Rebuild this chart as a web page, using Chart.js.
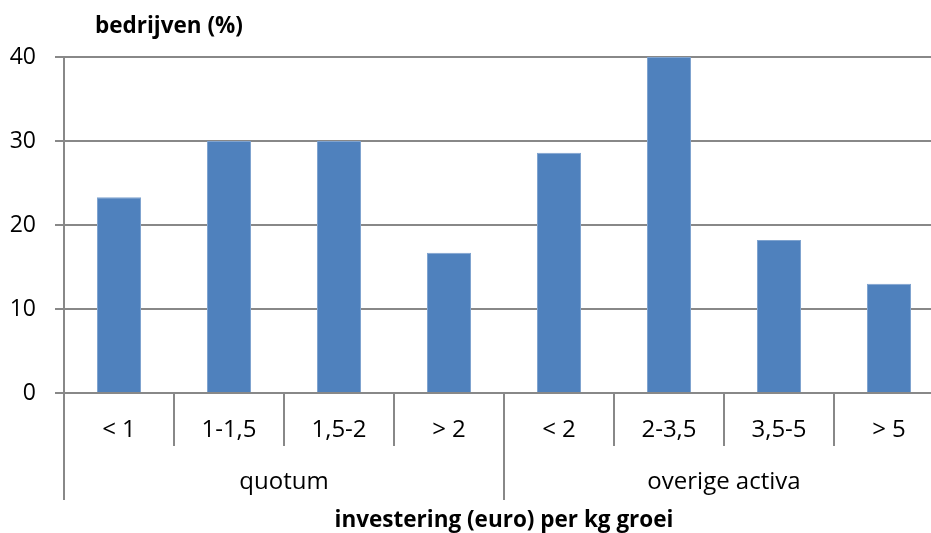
<!DOCTYPE html>
<html>
<head>
<meta charset="utf-8">
<script src="https://cdn.jsdelivr.net/npm/chart.js@4"></script>
<style>
  html, body { margin: 0; padding: 0; background: #fff; overflow: hidden; }
  .wrap { width: 960px; height: 533px; position: relative; }
</style>
</head>
<body>
<div class="wrap"><canvas id="myChart"></canvas></div>
<script>
// categories per group
const categories = ["< 1", "1-1,5", "1,5-2", "> 2", "< 2", "2-3,5", "3,5-5", "> 5"];
const groups = ["quotum", "overige activa"];
const groupSizes = [4, 4];
const values = [23.3, 30, 30, 16.7, 28.6, 40, 18.2, 13.0];
const yTicks = [0, 10, 20, 30, 40];
const yTitle = "bedrijven (%)";
const xTitle = "investering (euro) per kg groei";

const lineColor = "#888888";
const fontFam = "'Open Sans', sans-serif";

// draws the two level category axis and the titles
const groupAxis = {
  id: "groupAxis",
  afterDraw(chart) {
    const c = chart.ctx;
    const x = chart.scales.x;
    const area = chart.chartArea;
    const half = (x.getPixelForValue(1) - x.getPixelForValue(0)) / 2;
    c.save();
    c.strokeStyle = lineColor;
    c.lineWidth = 2;

    // separators between categories
    let bounds = [0];
    groupSizes.reduce((s, n) => { bounds.push(s + n); return s + n; }, 0);
    for (let i = 0; i <= categories.length; i++) {
      const px = Math.round(x.getPixelForValue(i) - half);
      const isGroup = bounds.includes(i);
      c.beginPath();
      c.moveTo(px, area.bottom);
      c.lineTo(px, area.bottom + (isGroup ? 107 : 53));
      c.stroke();
    }

    c.fillStyle = "#000";
    c.textAlign = "center";
    c.textBaseline = "middle";
    c.font = "24px " + fontFam;
    categories.forEach((lab, i) => {
      c.fillText(lab, x.getPixelForValue(i), area.bottom + 37);
    });

    let start = 0;
    groups.forEach((g, gi) => {
      const a = x.getPixelForValue(start) - half;
      const b = x.getPixelForValue(start + groupSizes[gi] - 1) + half;
      c.fillText(g, (a + b) / 2, area.bottom + 89);
      start += groupSizes[gi];
    });

    c.font = "bold 22.5px " + fontFam;
    c.fillText(xTitle, (area.left + area.right) / 2, area.bottom + 128);
    c.fillText(yTitle, area.left + 105, area.top - 30);
    c.restore();
  }
};

const ctx = document.getElementById("myChart");
new Chart(ctx, {
  type: "bar",
  data: {
    labels: categories,
    datasets: [{
      data: values,
      backgroundColor: "#4f81bd",
      borderColor: "#7fa3cf",
      borderWidth: 1,
      barPercentage: 0.8,
      categoryPercentage: 0.5
    }]
  },
  options: {
    responsive: true,
    maintainAspectRatio: false,
    animation: false,
    layout: { padding: { top: 57, right: 16, left: 0, bottom: 0 } },
    plugins: { legend: { display: false }, tooltip: { enabled: false } },
    scales: {
      x: {
        grid: { display: false },
        border: { display: false },
        ticks: { display: false },
        afterFit: (s) => { s.height = 140; }
      },
      y: {
        min: 0,
        max: 40,
        afterFit: (s) => { s.width = 64; },
        afterBuildTicks: (s) => { s.ticks = yTicks.map(v => ({ value: v })); },
        ticks: {
          padding: 19,
          color: "#000",
          font: { size: 23, family: fontFam }
        },
        grid: { color: lineColor, lineWidth: 2, tickLength: 9 },
        border: { color: lineColor, width: 2 }
      }
    }
  },
  plugins: [groupAxis]
});
</script>
</body>
</html>
